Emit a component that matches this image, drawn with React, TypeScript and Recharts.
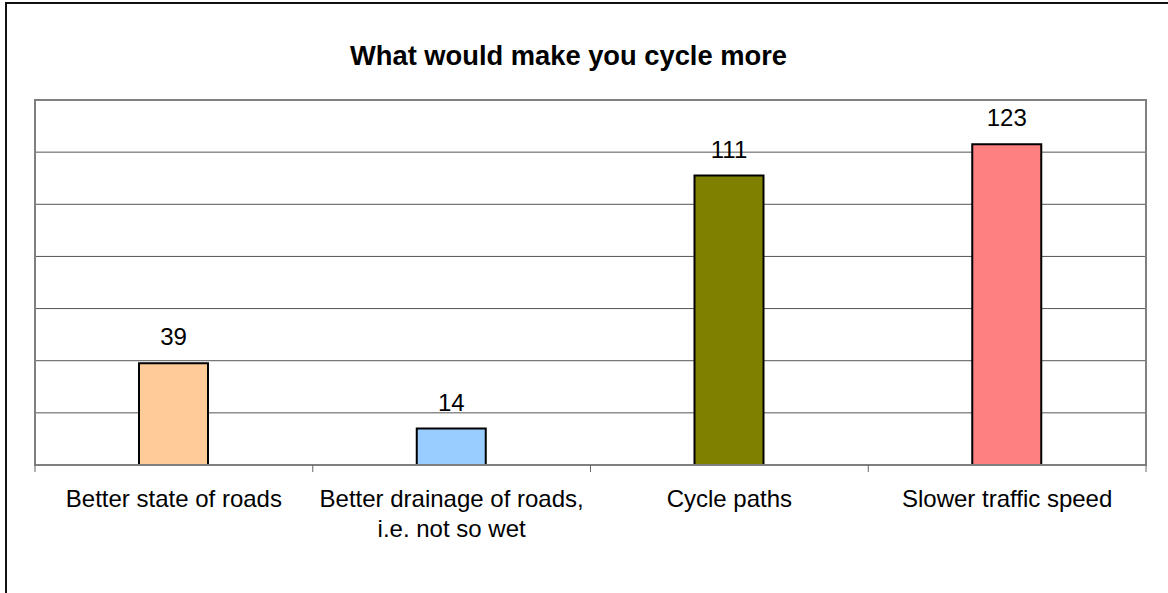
import { BarChart, Bar, XAxis, YAxis, CartesianGrid, Cell, LabelList, ReferenceArea } from 'recharts';

const categories = [
  'Better state of roads',
  'Better drainage of roads,\ni.e. not so wet',
  'Cycle paths',
  'Slower traffic speed',
];
const votes = [39, 14, 111, 123];
const barColors = ['#FFCC99', '#99CCFF', '#808000', '#FF8080'];
const yTicks = [0, 20, 40, 60, 80, 100, 120, 140];

const data = categories.map((name, i) => ({ name, votes: votes[i] }));

const FONT = '"Liberation Sans", Arial, sans-serif';

function CategoryTick(props: any) {
  const { x, y, width, payload, index, visibleTicksCount } = props;
  const band = width / visibleTicksCount;
  const lines = String(payload.value).split('\n');
  const isLast = index === visibleTicksCount - 1;
  return (
    <g>
      <line x1={x - band / 2} x2={x - band / 2} y1={y} y2={y + 7} stroke="#666" strokeWidth={1} />
      {isLast && <line x1={x + band / 2} x2={x + band / 2} y1={y} y2={y + 7} stroke="#666" strokeWidth={1} />}
      <text x={x} y={y + 42} textAnchor="middle" fontSize={24} fill="#000" fontFamily={FONT}>
        {lines.map((l, i) => (
          <tspan key={i} x={x} dy={i === 0 ? 0 : 30}>
            {l}
          </tspan>
        ))}
      </text>
    </g>
  );
}

export default function App() {
  return (
    <div style={{ position: 'absolute', left: 0, top: 0, width: 1168, height: 593, overflow: 'hidden', background: '#fff' }}>
      <div
        style={{
          position: 'absolute',
          left: 5,
          top: 2,
          width: 1300,
          height: 800,
          border: '2px solid #111',
        }}
      />
      <div
        style={{
          position: 'absolute',
          left: 0,
          top: 42,
          width: 1137,
          textAlign: 'center',
          fontFamily: FONT,
          fontWeight: 'bold',
          fontSize: 27.3,
          lineHeight: '27px',
          color: '#000',
        }}
      >
        What would make you cycle more
      </div>
      <div style={{ position: 'absolute', left: 0, top: 0 }}>
        <BarChart
          width={1168}
          height={593}
          data={data}
          margin={{ top: 100, right: 22, left: 35, bottom: 68 }}
          barSize={69}
        >
          <CartesianGrid vertical={false} stroke="#555" strokeWidth={1} />
          <ReferenceArea y1={0} y2={140} fill="none" stroke="#808080" strokeWidth={2} ifOverflow="visible" />
          <YAxis hide domain={[0, 140]} ticks={yTicks} />
          <XAxis
            dataKey="name"
            height={60}
            interval={0}
            tickLine={false}
            tickSize={0}
            tickMargin={0}
            axisLine={{ stroke: '#808080', strokeWidth: 2 }}
            tick={<CategoryTick />}
          />
          <Bar dataKey="votes" stroke="#000" strokeWidth={2} isAnimationActive={false}>
            {data.map((_, i) => (
              <Cell key={i} fill={barColors[i]} />
            ))}
            <LabelList dataKey="votes" position="top" offset={18} fontSize={24} fill="#000" fontFamily={FONT} />
          </Bar>
        </BarChart>
      </div>
    </div>
  );
}
